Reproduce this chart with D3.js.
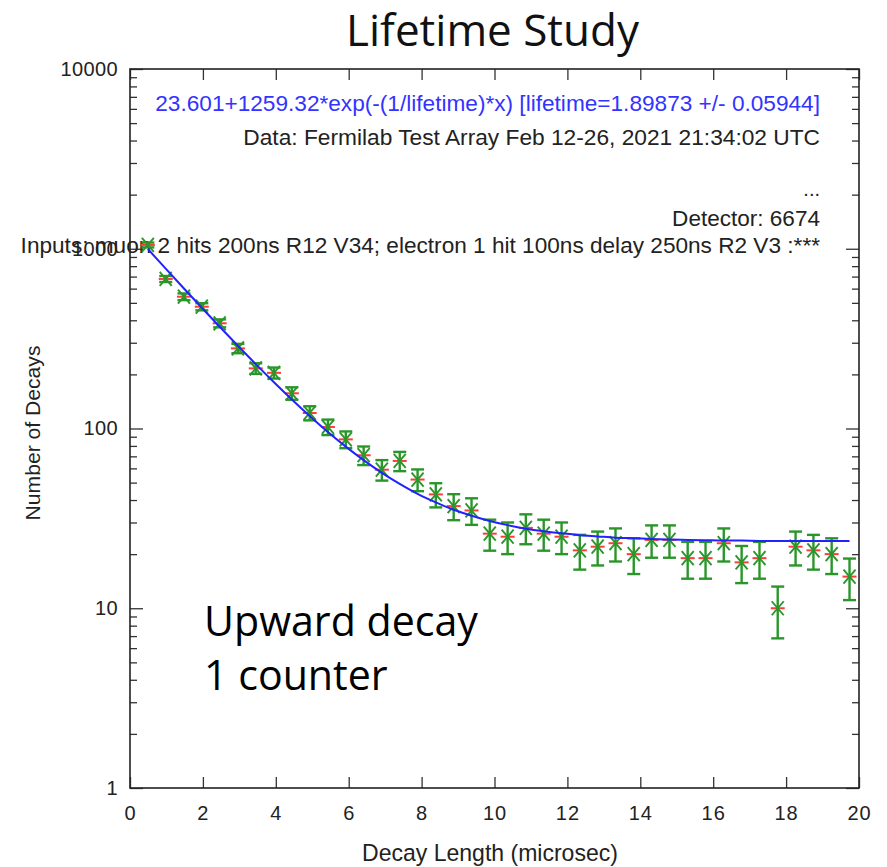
<!DOCTYPE html>
<html><head><meta charset="utf-8">
<script src="https://cdn.jsdelivr.net/npm/d3@7/dist/d3.min.js"></script>
<style>body{margin:0;background:#fff}</style>
</head><body>
<svg id="chart" width="887" height="867"></svg>
<script>
// ---------- data ----------
const xValues = [0.49,0.98,1.48,1.97,2.46,2.96,3.45,3.95,4.44,4.93,
  5.43,5.92,6.41,6.91,7.40,7.89,8.39,8.88,9.37,9.87,
  10.36,10.86,11.35,11.84,12.34,12.83,13.32,13.82,14.31,14.80,
  15.30,15.79,16.29,16.78,17.27,17.77,18.26,18.75,19.25,19.74];
const counts = [1050,679,541,476,385,279,216,204,157,122,
  102,87,71,59,66,52,43,37,35,26,
  25,28,26,25,21,22,23,20,24,24,
  19,19,23,18,19,10,22,21,20,15];
const errors = [32.4,26.1,23.3,21.8,19.6,16.7,14.7,14.3,12.5,11.0,
  10.1,9.3,8.4,7.7,8.1,7.2,6.6,6.1,5.9,5.1,
  5.0,5.3,5.1,5.0,4.6,4.7,4.8,4.5,4.9,4.9,
  4.4,4.4,4.8,4.2,4.4,3.2,4.7,4.6,4.5,3.9];
const fitValues = [996.5,775.2,601.2,469.8,368.3,288.5,228.2,180.9,145.1,117.5,
  95.7,79.3,66.7,56.7,49.2,43.3,38.8,35.3,32.7,30.6,
  29.0,27.7,26.8,26.1,25.5,25.1,24.7,24.5,24.3,24.1,
  24.0,23.9,23.8,23.8,23.7,23.7,23.7,23.7,23.65,23.64];
const xTickValues = [0,2,4,6,8,10,12,14,16,18,20];
const yTickValues = [1,10,100,1000,10000];
const titleText = "Lifetime Study";
const fitText = "23.601+1259.32*exp(-(1/lifetime)*x) [lifetime=1.89873 +/- 0.05944]";
const infoLines = ["Data: Fermilab Test Array Feb 12-26, 2021 21:34:02 UTC", "...", "Detector: 6674",
  "Inputs: muon 2 hits 200ns R12 V34; electron 1 hit 100ns delay 250ns R2 V3 :***"];
const xTitle = "Decay Length (microsec)";
const yTitle = "Number of Decays";
const overlayLines = ["Upward decay", "1 counter"];

// ---------- layout ----------
const svg = d3.select("#chart");
const L = 130, R = 859, T = 69, B = 788;
const x = d3.scaleLinear().domain([0, 20]).range([L, R]);
const y = d3.scaleLog().domain([1, 10000]).range([B, T]);
const SANS = "'Liberation Sans', Arial, Helvetica, sans-serif";

function fitWidth(sel, w) {
  const cur = sel.node().getComputedTextLength();
  const fs = parseFloat(sel.attr("font-size"));
  sel.attr("font-size", fs * w / cur);
}

svg.append("rect").attr("width", 887).attr("height", 867).attr("fill", "#fff");

// title
const tt = svg.append("text").attr("x", 492.5).attr("y", 46).attr("text-anchor", "middle")
  .attr("font-family", "'Open Sans', 'Noto Sans', sans-serif").attr("font-size", 44).attr("fill", "#111")
  .text(titleText);
fitWidth(tt, 293);

// axes (inward ticks)
function styleAxis(g) {
  g.select(".domain").remove();
  g.selectAll(".tick line").attr("stroke", "#333").attr("stroke-width", 1.3);
  g.selectAll(".tick text").attr("fill", "#222").attr("font-family", SANS);
}
const minorTicks = y.ticks().filter(v => !yTickValues.includes(v));

svg.append("g").attr("transform", `translate(0,${B})`)
  .call(d3.axisBottom(x).tickValues(xTickValues).tickSizeInner(-11).tickSizeOuter(0).tickPadding(18).tickFormat(d3.format("d")))
  .call(styleAxis)
  .call(g => g.selectAll(".tick text").attr("font-size", 20).attr("letter-spacing", 1).attr("dy", "0.72em"));
svg.append("g").attr("transform", `translate(0,${T})`)
  .call(d3.axisTop(x).tickValues(xTickValues).tickSizeInner(-11).tickSizeOuter(0).tickFormat(""))
  .call(styleAxis);

svg.append("g").attr("transform", `translate(${L},0)`)
  .call(d3.axisLeft(y).tickValues(yTickValues).tickSizeInner(-13).tickSizeOuter(0).tickPadding(12).tickFormat(d3.format("d")))
  .call(styleAxis)
  .call(g => g.selectAll(".tick text").attr("font-size", 20).attr("letter-spacing", 0.4));
svg.append("g").attr("transform", `translate(${L},0)`)
  .call(d3.axisLeft(y).tickValues(minorTicks).tickSizeInner(-7).tickSizeOuter(0).tickFormat(""))
  .call(styleAxis);
svg.append("g").attr("transform", `translate(${R},0)`)
  .call(d3.axisRight(y).tickValues(yTickValues).tickSizeInner(-13).tickSizeOuter(0).tickFormat(""))
  .call(styleAxis);
svg.append("g").attr("transform", `translate(${R},0)`)
  .call(d3.axisRight(y).tickValues(minorTicks).tickSizeInner(-7).tickSizeOuter(0).tickFormat(""))
  .call(styleAxis);

// frame
svg.append("rect").attr("x", L).attr("y", T).attr("width", R - L).attr("height", B - T)
  .attr("fill", "none").attr("stroke", "#222").attr("stroke-width", 1.6);

// axis titles
const xt = svg.append("text").attr("x", 490).attr("y", 861).attr("text-anchor", "middle")
  .attr("font-family", SANS).attr("font-size", 21).attr("fill", "#222").text(xTitle);
fitWidth(xt, 256);
const yt = svg.append("text").attr("transform", "translate(40,433) rotate(-90)").attr("text-anchor", "middle")
  .attr("font-family", SANS).attr("font-size", 20).attr("fill", "#222").text(yTitle);
fitWidth(yt, 175);

// annotations
const ft = svg.append("text").attr("x", 820).attr("y", 111).attr("text-anchor", "end")
  .attr("font-family", SANS).attr("font-size", 20).attr("fill", "#3333ff").text(fitText);
fitWidth(ft, 665);
const infoY = [145, 196, 226, 253];
const infoW = [577, null, 148, 800];
infoLines.forEach((s, i) => {
  const t = svg.append("text").attr("x", 820).attr("y", infoY[i]).attr("text-anchor", "end")
    .attr("font-family", SANS).attr("font-size", 20).attr("fill", "#222").text(s);
  if (infoW[i]) fitWidth(t, infoW[i]);
});

// data points with error bars
const pts = xValues.map((xv, i) => ({x: xv, c: counts[i], e: errors[i]}));
const GREEN = "#2a962a", RED = "#ff3c3c";
const g = svg.append("g");
pts.forEach(p => {
  const px = x(p.x), py = y(p.c), y1 = y(p.c + p.e), y2 = y(p.c - p.e);
  g.append("line").attr("x1", px - 7).attr("x2", px + 7).attr("y1", py).attr("y2", py)
    .attr("stroke", RED).attr("stroke-width", 2);
  g.append("line").attr("x1", px - 6).attr("x2", px + 6).attr("y1", py - 7).attr("y2", py + 7)
    .attr("stroke", GREEN).attr("stroke-width", 1.9);
  g.append("line").attr("x1", px - 6).attr("x2", px + 6).attr("y1", py + 7).attr("y2", py - 7)
    .attr("stroke", GREEN).attr("stroke-width", 1.9);
  g.append("line").attr("x1", px).attr("x2", px).attr("y1", y1).attr("y2", y2)
    .attr("stroke", GREEN).attr("stroke-width", 2.4);
  [y1, y2].forEach(yy => g.append("line").attr("x1", px - 6.5).attr("x2", px + 6.5).attr("y1", yy).attr("y2", yy)
    .attr("stroke", GREEN).attr("stroke-width", 2.4));
});

// fit curve
const line = d3.line().x((d, i) => x(xValues[i])).y(d => y(d)).curve(d3.curveMonotoneX);
svg.append("path").datum(fitValues).attr("d", line).attr("fill", "none")
  .attr("stroke", "#2222ff").attr("stroke-width", 2);

// overlay text
const ov1 = svg.append("text").attr("x", 204).attr("y", 636)
  .attr("font-family", "'Open Sans', 'Noto Sans', sans-serif").attr("font-size", 40).attr("fill", "#000")
  .text(overlayLines[0]);
fitWidth(ov1, 274);
svg.append("text").attr("x", 204).attr("y", 690)
  .attr("font-family", "'Open Sans', 'Noto Sans', sans-serif").attr("font-size", ov1.attr("font-size")).attr("fill", "#000")
  .text(overlayLines[1]);
</script>
</body></html>
